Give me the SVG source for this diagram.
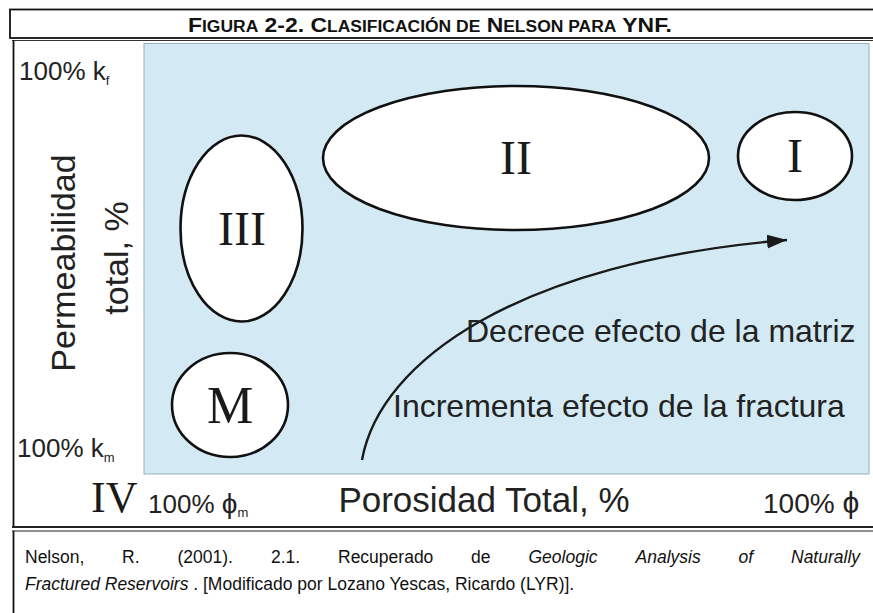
<svg xmlns="http://www.w3.org/2000/svg" width="873" height="613" viewBox="0 0 873 613">
<style>
.sans{font-family:"Liberation Sans",Arial,sans-serif;fill:#222}
.serif{font-family:"Liberation Serif","Times New Roman",serif;fill:#1a1a1a}
.node{fill:#fff;stroke:#111;stroke-width:2.6}
.cap{font-family:"Liberation Sans",Arial,sans-serif;font-size:17.5px;fill:#111}
.it{font-style:italic}
.frame{fill:none;stroke:#111}
</style>
<defs>
<marker id="ah" markerUnits="userSpaceOnUse" markerWidth="22" markerHeight="14" refX="20" refY="7" orient="auto">
<path d="M0,0 L20,7 L0,14 Z" fill="#1a1a1a"/>
</marker>
</defs>
<rect width="873" height="613" fill="#fff"/>
<!-- title box -->
<rect x="10" y="9.5" width="875" height="28.5" class="frame" stroke-width="1.8"/>
<text x="188" y="32" font-family="Liberation Sans,Arial,sans-serif" font-weight="bold" font-size="21" fill="#111" textLength="484" lengthAdjust="spacingAndGlyphs">F<tspan font-size="16">IGURA</tspan> 2-2. C<tspan font-size="16">LASIFICACIÓN DE</tspan> N<tspan font-size="16">ELSON PARA</tspan> YNF.</text>
<line x1="12" y1="40.5" x2="873" y2="40.5" stroke="#333" stroke-width="1.2"/>
<!-- image frame -->
<line x1="13.5" y1="40" x2="13.5" y2="528" stroke="#111" stroke-width="1.8"/>
<!-- plot -->
<rect x="144" y="43.5" width="725" height="430.5" fill="#d3eaf4" stroke="#9aafb9" stroke-width="1"/>
<!-- axis labels -->
<text class="sans" x="19" y="80" font-size="26">100% k<tspan font-size="13" dy="5">f</tspan></text>
<text class="sans" x="17" y="457" font-size="26">100% k<tspan font-size="13" dy="5">m</tspan></text>
<text class="sans" font-size="34" text-anchor="middle" transform="translate(75,263) rotate(-90)">Permeabilidad</text>
<text class="sans" font-size="34" text-anchor="middle" transform="translate(128,258) rotate(-90)">total, %</text>
<text class="serif" x="91" y="512" font-size="44">IV</text>
<text class="sans" x="148" y="513" font-size="26">100% <tspan font-size="28">ϕ</tspan><tspan font-size="13" dy="4">m</tspan></text>
<text class="sans" x="484" y="512" font-size="35" text-anchor="middle">Porosidad Total, %</text>
<text class="sans" x="763" y="513" font-size="28">100% <tspan font-size="30">ϕ</tspan></text>
<!-- nodes -->
<g id="node-III"><ellipse class="node" cx="241.5" cy="228.5" rx="61" ry="93"/><text class="serif" x="242" y="245" font-size="48" text-anchor="middle">III</text></g>
<g id="node-M"><ellipse class="node" cx="230" cy="405" rx="58" ry="52"/><text class="serif" x="230" y="423" font-size="52" text-anchor="middle">M</text></g>
<g id="node-II"><ellipse class="node" cx="516" cy="158" rx="193" ry="72"/><text class="serif" x="516" y="174" font-size="48" text-anchor="middle">II</text></g>
<g id="node-I"><ellipse class="node" cx="795" cy="156" rx="57" ry="44"/><text class="serif" x="795" y="172" font-size="48" text-anchor="middle">I</text></g>
<!-- connectors -->
<g id="connectors">
<path d="M362,460 C380,360 520,262 787,240" fill="none" stroke="#1a1a1a" stroke-width="2.4" marker-end="url(#ah)"/>
</g>
<text class="sans" x="466" y="342" font-size="32" fill="#1e2b33">Decrece efecto de la matriz</text>
<text class="sans" x="393" y="417" font-size="32" fill="#1e2b33">Incrementa efecto de la fractura</text>
<!-- bottom double line and caption -->
<line x1="12" y1="527" x2="873" y2="527" stroke="#222" stroke-width="1.8"/>
<line x1="12" y1="531" x2="873" y2="531" stroke="#222" stroke-width="1.2"/>
<line x1="13.5" y1="531" x2="13.5" y2="613" stroke="#111" stroke-width="1.8"/>
<text class="cap" y="563"><tspan x="25">Nelson,</tspan> <tspan x="122">R.</tspan> <tspan x="177.5">(2001).</tspan> <tspan x="271">2.1.</tspan> <tspan x="338">Recuperado</tspan> <tspan x="471">de</tspan> <tspan x="528.5" class="it">Geologic</tspan> <tspan x="635.5" class="it">Analysis</tspan> <tspan x="738.5" class="it">of</tspan> <tspan x="791" class="it">Naturally</tspan></text>
<text class="cap" x="25" y="590"><tspan class="it">Fractured Reservoirs</tspan> . [Modificado por Lozano Yescas, Ricardo (LYR)].</text>
</svg>
